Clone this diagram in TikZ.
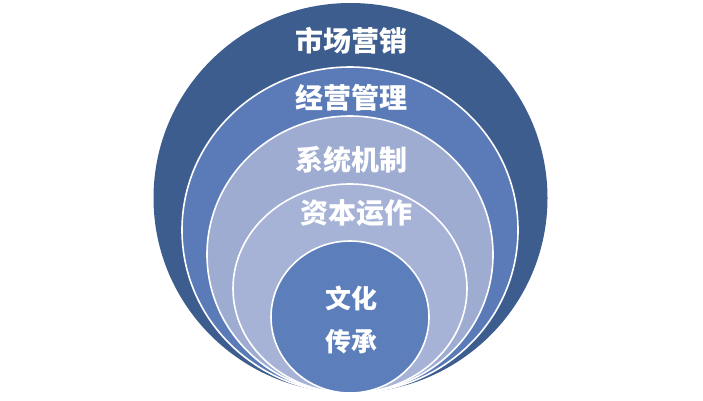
\documentclass[tikz,border=0pt]{standalone}
\usepackage{fontspec}
\newfontfamily\cjk{Noto Sans CJK SC}
\definecolor{ringA}{RGB}{61,93,143}
\definecolor{ringB}{RGB}{90,123,184}
\definecolor{ringC}{RGB}{158,172,210}
\definecolor{ringD}{RGB}{166,179,214}
\definecolor{ringE}{RGB}{92,126,187}
\tikzset{
  band/.style={line width=1.6pt, draw=white},
  lbl/.style={text=white, font=\cjk\bfseries\fontsize{28}{30}\selectfont, inner sep=0pt},
  lblin/.style={text=white, font=\cjk\bfseries\fontsize{26}{28}\selectfont, inner sep=0pt}
}
\begin{document}
\begin{tikzpicture}[x=1pt,y=-1pt]
\useasboundingbox[fill=white] (0,0) rectangle (703,400);
\fill[ringA] (350.5,198) ellipse [x radius=197pt, y radius=195pt];
\path[band, fill=ringB] (350,230) ellipse [x radius=168pt, y radius=163pt];
\path[band, fill=ringC] (350,254.5) ellipse [x radius=143pt, y radius=138.5pt];
\path[band, fill=ringD] (350,288.5) ellipse [x radius=117pt, y radius=104.5pt];
\path[band, fill=ringE] (350,317) ellipse [x radius=79pt, y radius=76pt];
\node[lbl] (t1) at (351,41) {市场营销};
\node[lbl] (t2) at (351,98) {经营管理};
\node[lbl] (t3) at (351,160) {系统机制};
\node[lbl] (t4) at (356,213) {资本运作};
\node[lblin] (t5) at (351,298) {文化};
\node[lblin] (t6) at (351,342) {传承};
\end{tikzpicture}
\end{document}
